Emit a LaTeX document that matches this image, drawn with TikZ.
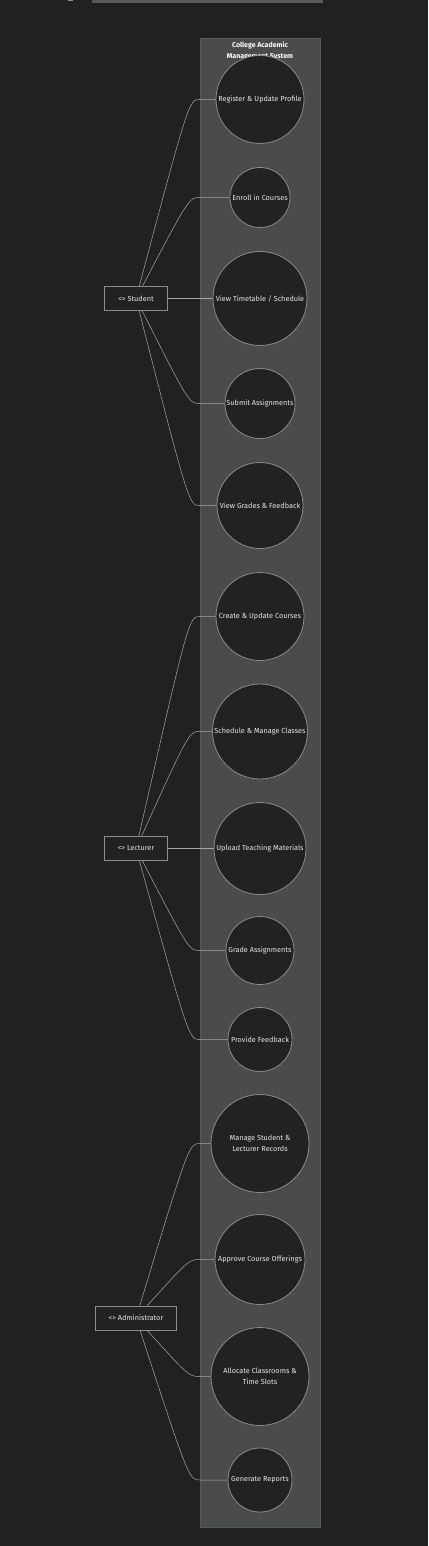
\documentclass[tikz,border=0pt]{standalone}
\usepackage{fontspec}
\setmainfont{Fira Sans}
\usepackage{tikz}
\usetikzlibrary{calc}

\definecolor{bgdark}{HTML}{212121}
\definecolor{sysfill}{HTML}{4A4B4B}
\definecolor{sysline}{HTML}{585959}
\definecolor{ucfill}{HTML}{212222}
\definecolor{ucline}{HTML}{8C8C8C}
\definecolor{linkc}{HTML}{A8A8A8}
\definecolor{txtc}{HTML}{E6E6E6}

\tikzset{
  usecase/.style={circle, draw=ucline, fill=ucfill, line width=0.8pt, inner sep=0pt,
    text=txtc, font=\fontsize{7.3}{10.5}\selectfont, align=center},
  actor/.style={rectangle, draw=ucline, fill=ucfill, line width=0.8pt, inner xsep=13.5pt,
    minimum height=24pt, text=txtc, font=\fontsize{7.3}{10}\selectfont},
  link/.style={draw=linkc, line width=0.5pt},
}

\begin{document}
\begin{tikzpicture}[x=1pt,y=1pt,yscale=-1,xscale=1]
\useasboundingbox (0,0) rectangle (428,1546);
\fill[bgdark] (0,0) rectangle (428,1546);

%cut-off title line
\fill[ucline] (68,0) rectangle (73,1.5);
\fill[sysline] (92,0) rectangle (323,2.6);

%System boundary
\draw[fill=sysfill, draw=sysline, line width=0.8pt] (200,38) rectangle (320.5,1527.5);
% Text Node
\draw (260,51) node [text=white, font=\bfseries\fontsize{7}{11}\selectfont, align=center] (sys) {College Academic\\Management System};

%Use cases
\node[usecase, minimum size=88pt] (u1) at (260,99.5) {Register \& Update Profile};
\node[usecase, minimum size=60pt] (u2) at (260,197.5) {Enroll in Courses};
\node[usecase, minimum size=94pt] (u3) at (260,298.5) {View Timetable / Schedule};
\node[usecase, minimum size=70pt] (u4) at (260,403.5) {Submit Assignments};
\node[usecase, minimum size=86pt] (u5) at (260,505.5) {View Grades \& Feedback};
\node[usecase, minimum size=88pt] (u6) at (260,616.5) {Create \& Update Courses};
\node[usecase, minimum size=95pt] (u7) at (260,731.5) {Schedule \& Manage Classes};
\node[usecase, minimum size=92pt] (u8) at (260,848.5) {Upload Teaching Materials};
\node[usecase, minimum size=68pt] (u9) at (260,950.5) {Grade Assignments};
\node[usecase, minimum size=64pt] (u10) at (260,1039.5) {Provide Feedback};
\node[usecase, minimum size=98pt] (u11) at (260,1143.5) {Manage Student \&\\Lecturer Records};
\node[usecase, minimum size=90pt] (u12) at (260,1259.5) {Approve Course Offerings};
\node[usecase, minimum size=98pt] (u13) at (260,1376.5) {Allocate Classrooms \&\\Time Slots};
\node[usecase, minimum size=64pt] (u14) at (260,1480) {Generate Reports};

%Actors
\node[actor] (stu) at (136,298.5) {<> Student};
\node[actor] (lec) at (136,848.5) {<> Lecturer};
\node[actor] (adm) at (136,1318) {<> Administrator};

%bend points at the boundary
\foreach \n/\y in {1/99.5, 2/197.5, 4/403.5, 5/505.5, 6/616.5, 7/731.5, 9/950.5, 10/1039.5, 11/1143.5, 12/1259.5, 13/1376.5, 14/1480}
  \coordinate (b\n) at (200,\y);

%Student links
\foreach \n in {1,2,4,5}
  \draw[link] (stu) .. controls ($(b\n)+(-11,0)$) .. (b\n) -- (u\n);
\draw[link] (stu) -- (u3);
%Lecturer links
\foreach \n in {6,7,9,10}
  \draw[link] (lec) .. controls ($(b\n)+(-11,0)$) .. (b\n) -- (u\n);
\draw[link] (lec) -- (u8);
%Administrator links
\foreach \n in {11,12,13,14}
  \draw[link] (adm) .. controls ($(b\n)+(-11,0)$) .. (b\n) -- (u\n);

\end{tikzpicture}
\end{document}
